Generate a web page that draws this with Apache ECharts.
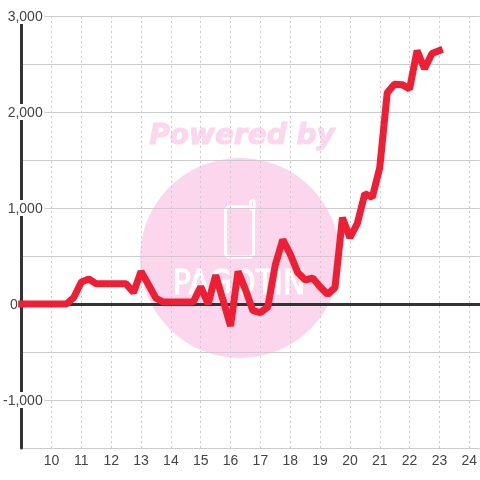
<!DOCTYPE html>
<html>
<head>
<meta charset="utf-8">
<style>
html, body { margin: 0; padding: 0; background: #fff; }
#main { width: 480px; height: 480px; }
</style>
<script src="https://cdn.jsdelivr.net/npm/echarts@6/dist/echarts.min.js"></script>
</head>
<body>
<div id="main"></div>
<script>
// hour of day, one point every 15 minutes
var hours = [
    9, 9.25, 9.5, 9.75, 10, 10.25, 10.5, 10.75,
    11, 11.25, 11.5, 11.75, 12, 12.25, 12.5, 12.75,
    13, 13.25, 13.5, 13.75, 14, 14.25, 14.5, 14.75,
    15, 15.25, 15.5, 15.75, 16, 16.25, 16.5, 16.75,
    17, 17.25, 17.5, 17.75, 18, 18.25, 18.5, 18.75,
    19, 19.25, 19.5, 19.75, 20, 20.25, 20.5, 20.75,
    21, 21.25, 21.5, 21.75, 22, 22.25, 22.5, 22.75, 23
];
var values = [
    0, 0, 0, 0, 0, 0, 0, 70,
    230, 260, 210, 210, 210, 210, 210, 120,
    340, 200, 60, 20, 20, 20, 20, 20,
    180, 0, 300, 40, -230, 340, 150, -70,
    -90, -30, 410, 670, 520, 330, 250, 270,
    180, 100, 170, 900, 690, 840, 1150, 1110,
    1420, 2200, 2290, 2285, 2240, 2640, 2450, 2610, 2640
];
var seriesData = [];
for (var i = 0; i < hours.length; i++) {
    seriesData.push([hours[i], values[i]]);
}

var textColor = '#444';
var gridColor = '#ccc';
var markPink = '#fbd6ec';

function yLabel(v) {
    if (v === 0) return '{zero|0}';
    if (v % 1000 !== 0) return '';
    return '{n|' + echarts.format.addCommas(v) + '}';
}

var option = {
    backgroundColor: '#fff',
    animation: false,
    textStyle: { fontFamily: 'Liberation Sans' },
    grid: { left: 19.5, right: 0, top: 16, bottom: 32 },
    // watermark behind the chart
    graphic: [
        { type: 'circle', z: -10, silent: true, shape: { cx: 240, cy: 258, r: 100 }, style: { fill: markPink } },
        {
            type: 'text', z: -10, silent: true, x: 242, y: 137,
            style: {
                text: 'Powered by', fill: markPink, stroke: markPink, lineWidth: 1,
                align: 'center', verticalAlign: 'middle',
                font: 'italic bold 28px "DejaVu Sans"'
            }
        },
        {
            type: 'rect', z: -9, silent: true,
            shape: { x: 225.5, y: 207, width: 28, height: 50, r: 4 },
            style: { fill: 'transparent', stroke: '#fff', lineWidth: 3 }
        },
        {
            type: 'line', z: -9, silent: true,
            shape: { x1: 252.5, y1: 202, x2: 252.5, y2: 208 },
            style: { stroke: '#fff', lineWidth: 6, lineCap: 'round' }
        },
        {
            type: 'line', z: -9, silent: true,
            shape: { x1: 252.5, y1: 202, x2: 252.5, y2: 206 },
            style: { stroke: markPink, lineWidth: 1.5, lineCap: 'round' }
        },
        {
            type: 'text', z: -9, silent: true, x: 239, y: 285, scaleY: 1.1,
            style: {
                text: 'PAGOTIN', fill: '#fff', stroke: '#fff', lineWidth: 1,
                align: 'center', verticalAlign: 'middle',
                font: '30px "DejaVu Sans"'
            }
        }
    ],
    xAxis: {
        type: 'value',
        min: 9,
        max: 24.35,
        interval: 1,
        axisLine: { onZero: true, lineStyle: { color: '#333', width: 3 } },
        axisTick: { show: false },
        axisLabel: {
            color: textColor,
            fontSize: 14,
            margin: 6,
            showMaxLabel: false,
            formatter: function (v) { return v === 9 ? '' : String(v); }
        },
        splitLine: {
            show: true,
            showMinLine: false,
            showMaxLine: false,
            lineStyle: { color: gridColor, type: [2, 3], width: 1 }
        }
    },
    yAxis: {
        type: 'value',
        min: -1500,
        max: 3000,
        interval: 500,
        axisLine: { show: true, onZero: false, lineStyle: { color: '#333', width: 3 } },
        axisTick: { show: false },
        axisLabel: {
            inside: true,
            align: 'right',
            margin: 23,
            color: textColor,
            fontSize: 14,
            showMinLabel: false,
            formatter: yLabel,
            rich: {
                n: { color: textColor, fontSize: 14, backgroundColor: '#fff', padding: [2, 2, 0, 0] },
                zero: { color: textColor, fontSize: 14, padding: [2, 27, 0, 0] }
            }
        },
        splitLine: { show: true, lineStyle: { color: gridColor, width: 1 } }
    },
    series: [
        {
            type: 'line',
            data: seriesData,
            showSymbol: false,
            symbol: 'none',
            z: 5,
            clip: false,
            lineStyle: { color: '#ee1f35', width: 7, join: 'bevel', cap: 'square' }
        }
    ]
};

var chart = echarts.init(document.getElementById('main'));
chart.setOption(option);
</script>
</body>
</html>
